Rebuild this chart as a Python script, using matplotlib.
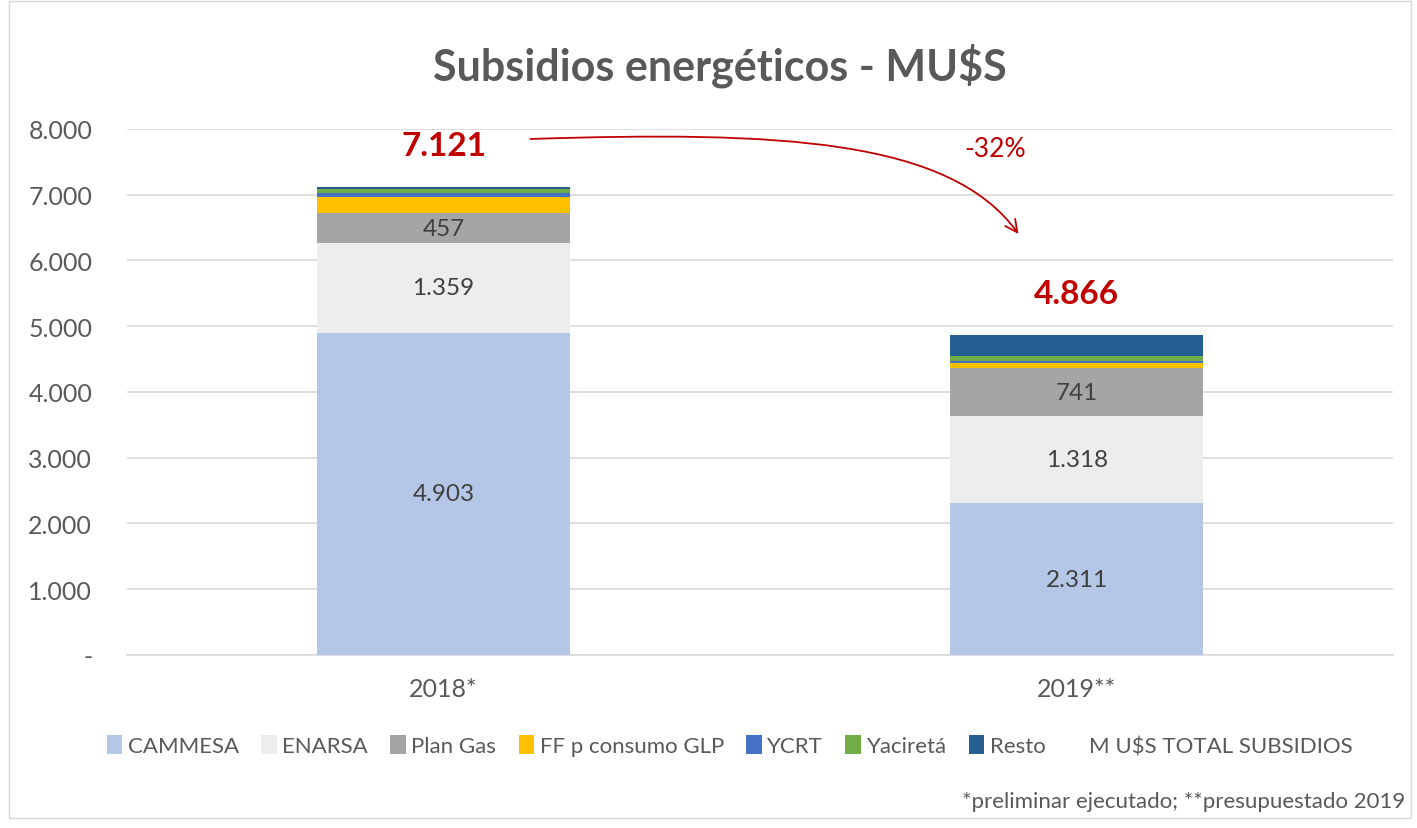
import matplotlib
matplotlib.use("Agg")
import matplotlib.pyplot as plt
from matplotlib.patches import Patch, Rectangle, FancyArrowPatch
from matplotlib.path import Path
import numpy as np

plt.rcParams['font.family'] = ['Lato', 'DejaVu Sans']

categories = ["2018*", "2019**"]
series_names = ["CAMMESA", "ENARSA", "Plan Gas", "FF p consumo GLP", "YCRT", "Yaciretá", "Resto"]
cammesa = [4903, 2311]
enarsa = [1359, 1318]
plan_gas = [457, 741]
ff_glp = [250, 65]
ycrt = [60, 35]
yacireta = [65, 80]
resto = [27, 316]
totals = [7121, 4866]
labeled = {"CAMMESA": cammesa, "ENARSA": enarsa, "Plan Gas": plan_gas}
colors = ["#B4C7E7", "#EDEDED", "#A5A5A5", "#FFC000", "#4472C4", "#70AD47", "#255E91"]
yticks = [0, 1000, 2000, 3000, 4000, 5000, 6000, 7000, 8000]
ytick_labels = ["-", "1.000", "2.000", "3.000", "4.000", "5.000", "6.000", "7.000", "8.000"]
change_label = "-32%"

fig = plt.figure(figsize=(14.17, 8.29), dpi=100)
ax = fig.add_axes([0.0896, 0.2087, 0.8937, 0.6345])

x = np.arange(len(categories))
data = [cammesa, enarsa, plan_gas, ff_glp, ycrt, yacireta, resto]
bottom = np.zeros(len(categories))
for name, vals, c in zip(series_names, data, colors):
    vals = np.array(vals, dtype=float)
    ax.bar(x, vals, 0.4, bottom=bottom, color=c, zorder=3)
    if name in labeled:
        for xi, b, v in zip(x, bottom, vals):
            ax.text(xi, b + v / 2, f"{int(v):,}".replace(",", "."), ha="center", va="center",
                    fontsize=17.5, color="#404040", zorder=4)
    bottom += vals

for xi, t in zip(x, totals):
    ax.annotate(f"{t:,}".replace(",", "."), (xi, t), xytext=(0, 30), textcoords="offset points",
                ha="center", va="center", fontsize=24, fontweight="bold", color="#C00000")

# curved arrow (cubic Bezier) from the 2018 total towards the 2019 bar
arrow_path = Path([(0.137, 7848), (0.531, 7970), (0.800, 7850), (0.908, 6403)],
                  [Path.MOVETO, Path.CURVE4, Path.CURVE4, Path.CURVE4])
arrow = FancyArrowPatch(path=arrow_path, arrowstyle="->", color="#C00000", lw=1.3,
                        mutation_scale=22, transform=ax.transData, clip_on=False, zorder=5)
ax.add_patch(arrow)
ax.text(0.871, 7696, change_label, ha="center", va="center", fontsize=19, color="#C00000")

ax.set_xlim(-0.5, 1.5)
ax.set_ylim(0, 8000)
ax.set_yticks(yticks)
ax.set_yticklabels(ytick_labels)
ax.set_xticks(x)
ax.set_xticklabels(categories)
ax.tick_params(axis="y", length=0, pad=25, labelsize=18, labelcolor="#595959")
ax.tick_params(axis="x", length=0, pad=16, labelsize=18, labelcolor="#595959")
ax.grid(axis="y", color="#D9D9D9", lw=1.2, zorder=0)
for s in ["top", "right", "left"]:
    ax.spines[s].set_visible(False)
ax.spines["bottom"].set_color("#D9D9D9")
ax.spines["bottom"].set_linewidth(1.2)

fig.text(0.508, 0.921, "Subsidios energéticos - MU$S", ha="center", va="center",
         fontsize=31, fontweight="bold", color="#595959")

handles = [Patch(facecolor=c, edgecolor="none") for c in colors]
handles.append(Patch(facecolor="none", edgecolor="none"))
labels = series_names + ["M U$S TOTAL SUBSIDIOS"]
fig.legend(handles, labels, loc="center", bbox_to_anchor=(0.515, 0.099), ncol=8, frameon=False,
           fontsize=16, handlelength=0.7, handleheight=0.9, handletextpad=0.25, columnspacing=1.0,
           labelcolor="#595959")

fig.text(0.992, 0.033, "*preliminar ejecutado; **presupuestado 2019", ha="right", va="center",
         fontsize=16, color="#595959")

fig.patches.append(Rectangle((0.006, 0.012), 0.99, 0.985, transform=fig.transFigure,
                             fill=False, edgecolor="#D9D9D9", lw=1))

fig.savefig("out.png", dpi=100)
